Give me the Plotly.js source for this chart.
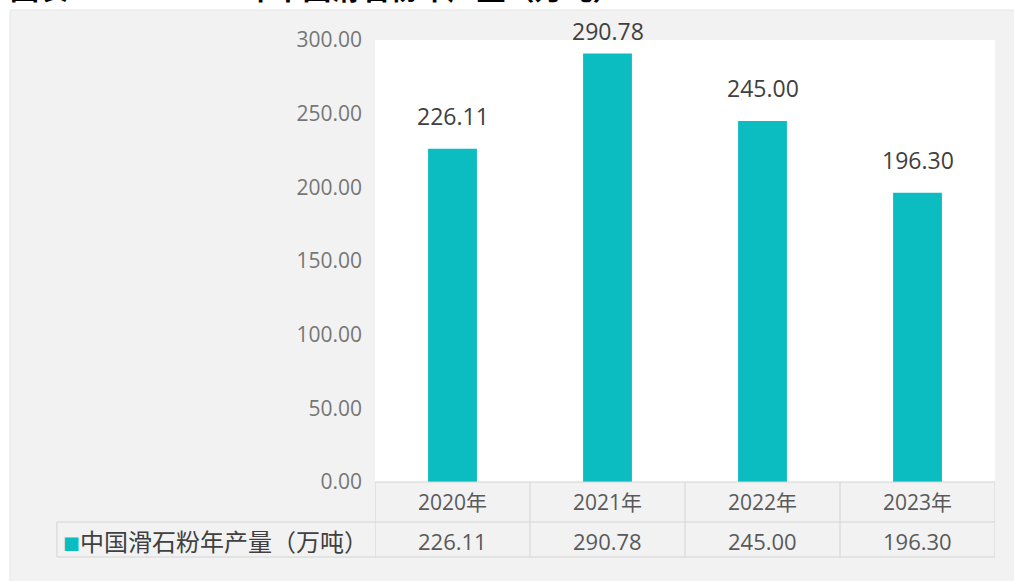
<!DOCTYPE html>
<html>
<head>
<meta charset="utf-8">
<script src="https://cdn.plot.ly/plotly-3.0.1.min.js"></script>
<style>html,body{margin:0;padding:0;background:#fff;}#chart{width:1014px;height:581px;}</style>
</head>
<body>
<div id="chart"></div>
<script>
const titleText = "图表：2020-2023年中国滑石粉年产量（万吨）";
const seriesName = "中国滑石粉年产量（万吨）";
const categories = ["2020年", "2021年", "2022年", "2023年"];
const values = [226.11, 290.78, 245.00, 196.30];
const yTicks = [0, 50, 100, 150, 200, 250, 300];

const teal = "#0bbcc1";
const gridC = "#d4d4d4";
const fontFam = "'Open Sans', 'Noto Sans CJK SC', sans-serif";
const cjkFam = "'Noto Sans CJK SC', 'Open Sans', sans-serif";

const annotations = [];
values.forEach((v, i) => {
  annotations.push({
    x: categories[i], y: Math.min(v + 10, 294), xref: "x", yref: "y",
    text: v.toFixed(2), showarrow: false, yanchor: "bottom",
    font: {family: fontFam, size: 23, color: "#404040"}
  });
  annotations.push({
    x: categories[i], y: -0.133, xref: "x", yref: "paper",
    text: v.toFixed(2), showarrow: false, yanchor: "middle",
    font: {family: fontFam, size: 22, color: "#595959"}
  });
});
annotations.push({
  x: -0.507, y: -0.133, xref: "paper", yref: "paper", xanchor: "left", yanchor: "middle",
  text: '<span style="font-size:17px;color:' + teal + '">■</span>' + seriesName, showarrow: false,
  font: {family: cjkFam, size: 24, color: "#404040"}
});
annotations.push({
  x: -0.592, y: 1.121, xref: "paper", yref: "paper", xanchor: "left", yanchor: "middle",
  text: "<b>" + titleText + "</b>", showarrow: false,
  font: {family: cjkFam, size: 29, color: "#000000"}
});

const shapes = [
  {type: "rect", xref: "paper", yref: "paper", x0: -0.5887, x1: 1.04, y0: -0.25, y1: 1.0679,
   fillcolor: "#f2f2f2", line: {width: 1, color: "#e6e6e6"}, layer: "below"},
  {type: "rect", xref: "paper", yref: "paper", x0: 0, x1: 1, y0: 0, y1: 1,
   fillcolor: "#ffffff", line: {width: 0}, layer: "below"},
  {type: "line", xref: "paper", yref: "paper", x0: 0, x1: 1, y0: 0, y1: 0, line: {color: gridC, width: 1}},
  {type: "line", xref: "paper", yref: "paper", x0: -0.513, x1: 1, y0: -0.0905, y1: -0.0905, line: {color: gridC, width: 1}},
  {type: "line", xref: "paper", yref: "paper", x0: -0.513, x1: 1, y0: -0.1697, y1: -0.1697, line: {color: gridC, width: 1}},
  {type: "line", xref: "paper", yref: "paper", x0: -0.513, x1: -0.513, y0: -0.0905, y1: -0.1697, line: {color: gridC, width: 1}}
];
for (let i = 0; i <= categories.length; i++) {
  shapes.push({type: "line", xref: "x", yref: "paper", x0: i - 0.5, x1: i - 0.5, y0: 0, y1: -0.1697,
               line: {color: gridC, width: 1}});
}

const trace = {
  type: "bar", x: categories, y: values, name: seriesName,
  marker: {color: teal}, hoverinfo: "x+y"
};

const layout = {
  width: 1014, height: 581,
  margin: {l: 375, r: 19, t: 40, b: 99},
  paper_bgcolor: "#ffffff", plot_bgcolor: "rgba(0,0,0,0)",
  showlegend: false,
  bargap: 0.685,
  xaxis: {
    type: "category", showgrid: false, zeroline: false, showline: false, ticks: "",
    range: [-0.5, categories.length - 0.5],
    tickfont: {family: fontFam, size: 21, color: "#595959"}, ticklabelstandoff: 6
  },
  yaxis: {
    range: [0, 300], tickvals: yTicks, ticktext: yTicks.map(t => t.toFixed(2)),
    showgrid: false, zeroline: false, showline: false, ticks: "",
    tickfont: {family: fontFam, size: 21, color: "#767676"}, ticklabelstandoff: 12
  },
  annotations: annotations,
  shapes: shapes
};

Plotly.newPlot("chart", [trace], layout, {staticPlot: true, displayModeBar: false});
</script>
</body>
</html>
